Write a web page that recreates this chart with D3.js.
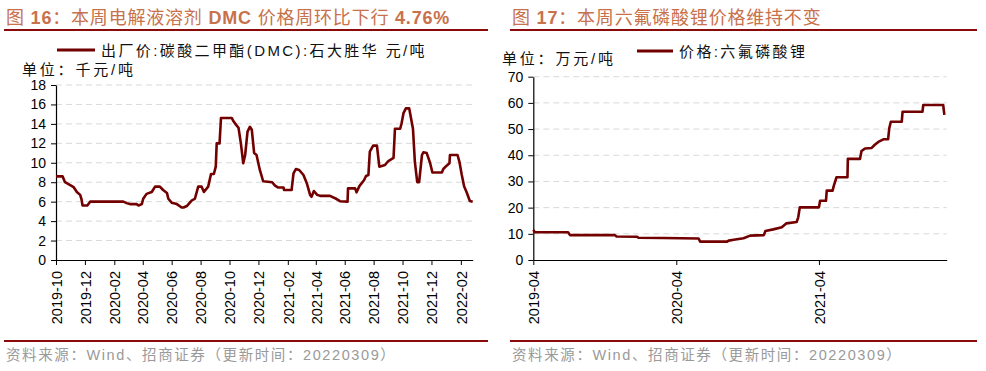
<!DOCTYPE html>
<html>
<head>
<meta charset="utf-8">
<script src="https://cdn.jsdelivr.net/npm/d3@7"></script>
<style>
  body { margin: 0; background: #fff; }
  svg { display: block; font-family: "Liberation Sans", Arial, "Noto Sans CJK SC", sans-serif; }
</style>
</head>
<body>
<svg id="chart" width="986" height="371"></svg>
<script>
// ---------------- Data ----------------
const dmcDates = ["2019-10-01","2019-10-15","2019-10-20","2019-10-31","2019-11-07","2019-11-14","2019-11-21","2019-11-24","2019-11-26","2019-12-06","2019-12-12","2020-02-20","2020-02-27","2020-03-05","2020-03-19","2020-03-23","2020-03-30","2020-04-02","2020-04-09","2020-04-20","2020-04-27","2020-05-07","2020-05-14","2020-05-22","2020-05-25","2020-06-01","2020-06-12","2020-06-22","2020-06-26","2020-07-03","2020-07-13","2020-07-20","2020-07-27","2020-08-03","2020-08-08","2020-08-17","2020-08-23","2020-08-29","2020-09-02","2020-09-04","2020-09-10","2020-09-13","2020-10-06","2020-10-09","2020-10-15","2020-10-20","2020-10-25","2020-10-30","2020-11-03","2020-11-08","2020-11-13","2020-11-17","2020-11-22","2020-11-27","2020-12-04","2020-12-11","2020-12-30","2021-01-05","2021-01-12","2021-01-23","2021-01-24","2021-02-09","2021-02-13","2021-02-18","2021-02-25","2021-03-06","2021-03-13","2021-03-20","2021-03-23","2021-03-28","2021-04-04","2021-04-10","2021-05-01","2021-05-15","2021-05-22","2021-06-07","2021-06-08","2021-06-23","2021-06-26","2021-07-02","2021-07-12","2021-07-16","2021-07-21","2021-07-24","2021-07-31","2021-08-08","2021-08-13","2021-08-25","2021-09-01","2021-09-12","2021-09-15","2021-09-26","2021-09-29","2021-10-03","2021-10-08","2021-10-15","2021-10-23","2021-10-27","2021-11-01","2021-11-05","2021-11-11","2021-11-14","2021-11-21","2021-11-28","2021-12-03","2021-12-23","2021-12-26","2022-01-02","2022-01-08","2022-01-09","2022-01-25","2022-01-29","2022-02-03","2022-02-08","2022-02-13","2022-02-20","2022-02-26"];
const dmcValues = [8.6,8.6,8.0,7.7,7.5,7.0,6.7,6.2,5.6,5.6,6.0,6.0,5.85,5.75,5.75,5.6,5.75,6.3,6.8,7.0,7.55,7.55,7.2,6.9,6.3,5.9,5.75,5.4,5.4,5.55,6.1,6.3,7.55,7.55,7.0,7.55,8.85,8.85,9.6,12.0,12.0,14.6,14.6,14.3,13.9,13.6,12.0,9.95,10.8,13.2,13.7,13.4,11.0,10.8,9.26,8.1,8.0,7.65,7.45,7.45,7.2,7.2,8.9,9.36,9.26,8.74,7.9,6.7,6.5,7.1,6.7,6.6,6.6,6.27,6.05,6.0,7.37,7.37,6.96,7.6,8.23,8.64,8.74,11.14,11.76,11.76,9.6,9.77,10.18,10.5,13.5,13.5,14.06,15.1,15.6,15.6,13.5,10.1,8.0,8.0,10.8,11.08,11.0,10.0,9.0,9.0,9.36,9.7,9.95,10.8,10.8,10.1,8.74,7.55,7.0,6.07,6.0];

const lipf6Dates = ["2019-04-01","2019-04-05","2019-06-29","2019-07-04","2019-10-27","2019-10-31","2019-12-22","2019-12-26","2020-02-28","2020-05-28","2020-06-01","2020-08-09","2020-08-13","2020-08-26","2020-09-20","2020-10-07","2020-11-11","2020-11-15","2020-12-05","2020-12-27","2021-01-08","2021-02-03","2021-02-07","2021-02-11","2021-04-01","2021-04-04","2021-04-19","2021-04-21","2021-05-06","2021-05-09","2021-05-16","2021-06-13","2021-06-14","2021-07-15","2021-07-19","2021-07-28","2021-08-14","2021-08-22","2021-08-31","2021-09-13","2021-09-25","2021-09-28","2021-10-02","2021-10-30","2021-11-01","2021-12-22","2021-12-24","2022-02-13","2022-02-16"];
const lipf6Values = [11.5,10.6,10.6,9.5,9.5,9.0,8.9,8.5,8.4,8.2,7.0,7.0,7.4,7.7,8.3,9.3,9.5,11.1,11.7,12.5,14.0,14.5,16.3,20.1,20.1,22.6,22.6,26.5,26.5,28.3,31.6,31.6,38.6,38.6,41.6,42.6,42.8,44.0,45.1,46.1,46.1,50.3,52.8,52.8,56.6,56.6,59.2,59.2,55.4];

const leftXTicks = ["2019-10","2019-12","2020-02","2020-04","2020-06","2020-08","2020-10","2020-12","2021-02","2021-04","2021-06","2021-08","2021-10","2021-12","2022-02"];
const rightXTicks = ["2019-04","2020-04","2021-04"];
const leftYTicks = [0,2,4,6,8,10,12,14,16,18];
const rightYTicks = [0,10,20,30,40,50,60,70];

const leftTitleParts = [["图 ", false], ["16", true], ["：本周电解液溶剂 ", false], ["DMC", true], [" 价格周环比下行 ", false], ["4.76%", true]];
const rightTitleParts = [["图 ", false], ["17", true], ["：本周六氟磷酸锂价格维持不变", false]];
const leftLegend = "出厂价:碳酸二甲酯(DMC):石大胜华 元/吨";
const rightLegend = "价格:六氟磷酸锂";
const leftUnit = "单位：千元/吨";
const rightUnit = "单位：万元/吨";
const sourceText = "资料来源：Wind、招商证券（更新时间：20220309）";

// ---------------- Drawing ----------------
const svg = d3.select("#chart");
svg.append("rect").attr("width", 986).attr("height", 371).attr("fill", "#fff");

const parseDay = d3.timeParse("%Y-%m-%d");
const parseMonth = d3.timeParse("%Y-%m");
const LINE = "#730000";
const RULE = "#8B0A0A";
const TITLE = "#C8714B";

function panel(cfg) {
  const g = svg.append("g");
  // title
  const t = g.append("text").attr("x", cfg.titleX).attr("y", 24)
    .attr("fill", TITLE).attr("font-size", 18).style("letter-spacing", "0.8px");
  cfg.titleParts.forEach(([s, b]) => {
    t.append("tspan").attr("font-weight", b ? "bold" : "normal").text(s);
  });
  g.append("line").attr("x1", cfg.ruleX0).attr("x2", cfg.ruleX1).attr("y1", 30).attr("y2", 30)
    .attr("stroke", RULE).attr("stroke-width", 2);
  g.append("line").attr("x1", cfg.ruleX0).attr("x2", cfg.ruleX1).attr("y1", 341).attr("y2", 341)
    .attr("stroke", RULE).attr("stroke-width", 2);
  g.append("text").attr("x", cfg.titleX).attr("y", 360).attr("fill", "#9a9a9a")
    .attr("font-size", 14.5).style("letter-spacing", "1.6px").text(sourceText);

  // legend
  g.append("line").attr("x1", cfg.legX0).attr("x2", cfg.legX1).attr("y1", cfg.legY).attr("y2", cfg.legY)
    .attr("stroke", LINE).attr("stroke-width", 3);
  g.append("text").attr("x", cfg.legX1 + 6).attr("y", cfg.legY + 6).attr("font-size", 15)
    .attr("fill", "#111").style("letter-spacing", "2.4px").text(cfg.legend);
  g.append("text").attr("x", cfg.unitX).attr("y", cfg.unitY).attr("font-size", 15)
    .attr("fill", "#111").style("letter-spacing", "2.8px").text(cfg.unit);

  const x = d3.scaleTime().domain(cfg.xDomain.map(parseDay)).range([cfg.x0, cfg.x1]);
  const y = d3.scaleLinear().domain(cfg.yDomain).range([260, cfg.yTop]);

  // grid
  g.append("g").selectAll("line").data(cfg.yTicks.filter(v => v > 0)).join("line")
    .attr("x1", cfg.x0).attr("x2", cfg.gridX1)
    .attr("y1", d => y(d)).attr("y2", d => y(d))
    .attr("stroke", "#d9d9d9").attr("stroke-width", 1).attr("stroke-dasharray", "6,4");

  // y axis
  const ya = g.append("g").attr("transform", `translate(${cfg.x0},0)`)
    .call(d3.axisLeft(y).tickValues(cfg.yTicks).tickSize(5).tickPadding(5).tickSizeOuter(0));
  ya.select(".domain").attr("stroke", "#000").attr("stroke-width", 1.2);
  ya.selectAll(".tick line").attr("stroke", "#000");
  ya.selectAll("text").attr("font-size", 14).attr("fill", "#000")
    .attr("font-family", "Liberation Sans, Arial, sans-serif");

  // x axis
  const xa = g.append("g").attr("transform", "translate(0,260)")
    .call(d3.axisBottom(x).tickValues(cfg.xTicks.map(parseMonth)).tickFormat(d3.timeFormat("%Y-%m"))
      .tickSize(5).tickSizeOuter(0));
  xa.select(".domain").attr("stroke", "#000").attr("stroke-width", 1.2);
  xa.selectAll(".tick line").attr("stroke", "#000");
  xa.selectAll("text").attr("font-size", 14.5).attr("fill", "#000")
    .attr("font-family", "Liberation Sans, Arial, sans-serif")
    .attr("transform", "rotate(-90)").attr("x", -11).attr("y", 0).attr("dy", "0.36em")
    .style("text-anchor", "end");

  // line
  const data = cfg.dates.map((d, i) => ({ date: parseDay(d), value: cfg.values[i] }));
  g.append("path").datum(data)
    .attr("fill", "none").attr("stroke", LINE).attr("stroke-width", 2.6)
    .attr("stroke-linejoin", "round")
    .attr("d", d3.line().x(d => x(d.date)).y(d => y(d.value)));
}

panel({
  titleX: 6, titleParts: leftTitleParts, ruleX0: 4, ruleX1: 488,
  legX0: 57, legX1: 95, legY: 50, legend: leftLegend,
  unitX: 22, unitY: 75, unit: leftUnit,
  xDomain: ["2019-10-01", "2022-02-26"], x0: 56, x1: 472.7, gridX1: 472.7,
  yDomain: [0, 18], yTop: 85, yTicks: leftYTicks, xTicks: leftXTicks,
  dates: dmcDates, values: dmcValues
});

panel({
  titleX: 512, titleParts: rightTitleParts, ruleX0: 510, ruleX1: 977,
  legX0: 637, legX1: 673, legY: 51, legend: rightLegend,
  unitX: 502, unitY: 64, unit: rightUnit,
  xDomain: ["2019-04-01", "2022-02-22"], x0: 533.3, x1: 946.7, gridX1: 946.7,
  yDomain: [0, 70], yTop: 76.7, yTicks: rightYTicks, xTicks: rightXTicks,
  dates: lipf6Dates, values: lipf6Values
});
</script>
</body>
</html>
